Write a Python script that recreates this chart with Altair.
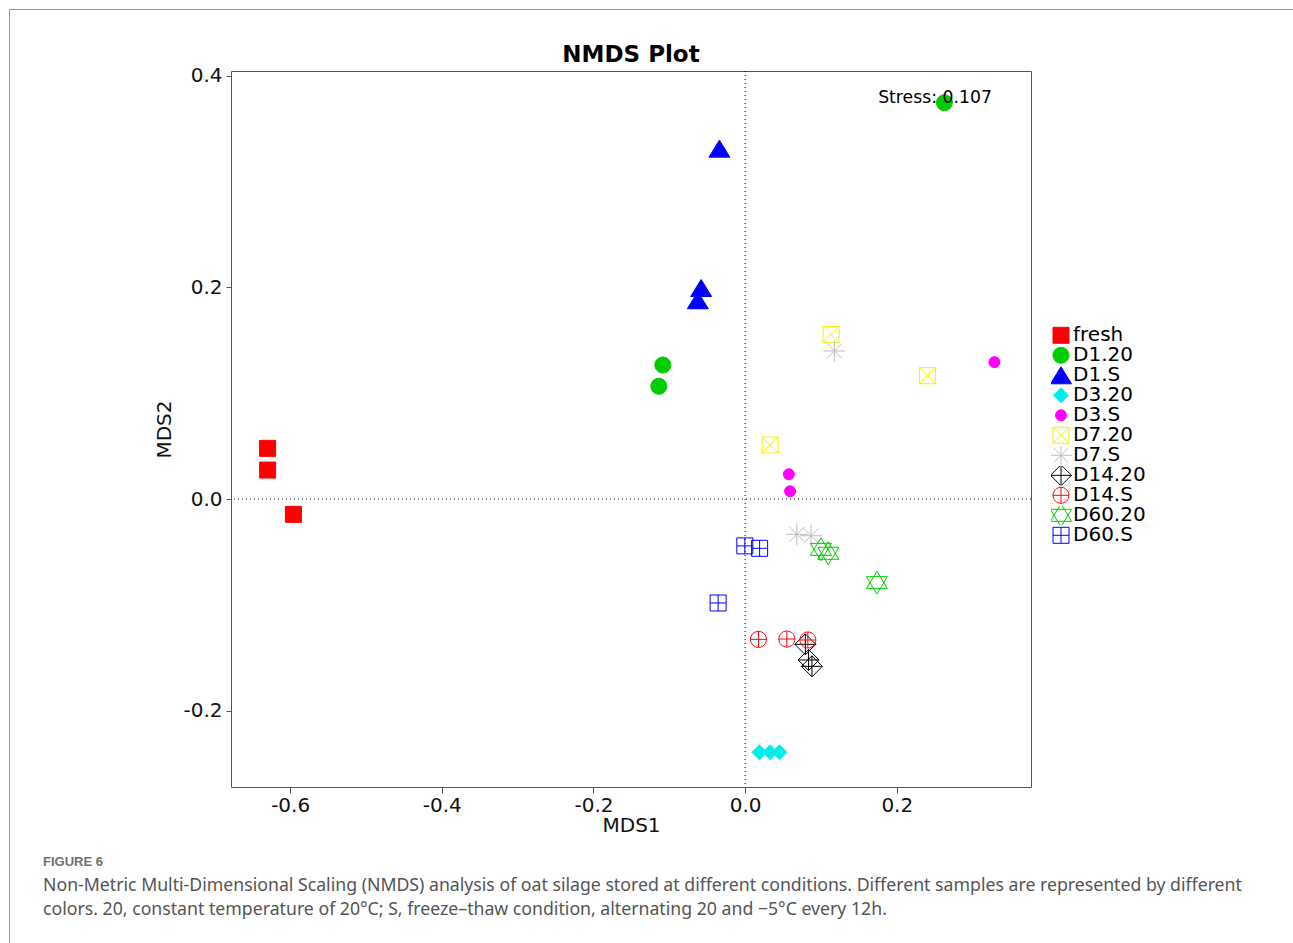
import altair as alt
import pandas as pd

# ---- data ----
groups = ["fresh", "D1.20", "D1.S", "D3.20", "D3.S", "D7.20", "D7.S",
          "D14.20", "D14.S", "D60.20", "D60.S"]

sample_group = (["fresh"] * 3 + ["D1.20"] * 3 + ["D1.S"] * 3 + ["D3.20"] * 3 +
                ["D3.S"] * 3 + ["D7.20"] * 3 + ["D7.S"] * 3 + ["D14.20"] * 3 +
                ["D14.S"] * 3 + ["D60.20"] * 3 + ["D60.S"] * 3)

mds1 = [-0.6297, -0.6297, -0.5957,
        0.2628, -0.1085, -0.1138,
        -0.0339, -0.0580, -0.0624,
        0.0189, 0.0330, 0.0452,
        0.3288, 0.0576, 0.0593,
        0.1134, 0.2404, 0.0330,
        0.1178, 0.0682, 0.0870,
        0.0794, 0.0837, 0.0881,
        0.0176, 0.0550, 0.0827,
        0.1000, 0.1097, 0.1738,
        -0.0004, 0.0191, -0.0356]

mds2 = [0.0479, 0.0274, -0.0145,
        0.3747, 0.1267, 0.1066,
        0.3313, 0.1995, 0.1879,
        -0.2395, -0.2395, -0.2395,
        0.1294, 0.0234, 0.0073,
        0.1557, 0.1166, 0.0511,
        0.1400, -0.0334, -0.0347,
        -0.1374, -0.1522, -0.1582,
        -0.1327, -0.1324, -0.1333,
        -0.0476, -0.0513, -0.0791,
        -0.0443, -0.0466, -0.0983]

title_text = "NMDS Plot"
stress_label = "Stress: 0.107"
stress_x = [0.1754]
stress_y = [0.3748]

x_ticks = [-0.6, -0.4, -0.2, 0.0, 0.2]
y_ticks = [-0.2, 0.0, 0.2, 0.4]

caption_head = "FIGURE 6"
caption_lines = [
    "Non-Metric Multi-Dimensional Scaling (NMDS) analysis of oat silage stored at different conditions. Different samples are represented by different",
    "colors. 20, constant temperature of 20°C; S, freeze\u2013thaw condition, alternating 20 and \u22125°C every 12h.",
]

# ---- styles ----
stroke_colors = ["#FF0000", "#00CD00", "#0000FF", "#00EEEE", "#FF00FF", "#F2F200",
                 "#BEBEBE", "#000000", "#FF0000", "#00CD00", "#0000FF"]
fill_colors = ["#FF0000", "#00CD00", "#0000FF", "#00EEEE", "#FF00FF", "transparent",
               "transparent", "transparent", "transparent", "transparent", "transparent"]
shapes = [
    "M-8,-8H8V8H-8Z",
    "M8,0A8,8,0,1,1,-8,0A8,8,0,1,1,8,0Z",
    "M0,-8.5L10.5,8.5L-10.5,8.5Z",
    "M0,-7.5L7.5,0L0,7.5L-7.5,0Z",
    "M5.5,0A5.5,5.5,0,1,1,-5.5,0A5.5,5.5,0,1,1,5.5,0Z",
    "M-8,-8H8V8H-8Z M-8,-8L8,8 M8,-8L-8,8",
    "M-11,0H11 M0,-11V11 M-7.5,-7.5L7.5,7.5 M7.5,-7.5L-7.5,7.5",
    "M0,-10.5L10.5,0L0,10.5L-10.5,0Z M-10.5,0H10.5 M0,-10.5V10.5",
    "M8,0A8,8,0,1,1,-8,0A8,8,0,1,1,8,0Z M-8,0H8 M0,-8V8",
    "M0,-11.5L10.5,6L-10.5,6Z M0,11.5L10.5,-6L-10.5,-6Z",
    "M-8,-8H8V8H-8Z M-8,0H8 M0,-8V8",
]

FONT = "DejaVu Sans"
HYPHEN_LABEL = "datum.value < 0 ? '-' + format(-datum.value, '.1f') : format(datum.value, '.1f')"

df = pd.DataFrame({"MDS1": mds1, "MDS2": mds2, "group": sample_group})

xscale = alt.Scale(domain=[-0.678, 0.377], nice=False, zero=False)
yscale = alt.Scale(domain=[-0.2723, 0.4047], nice=False, zero=False)

legend = alt.Legend(title=None, orient="none", legendX=820, legendY=255,
                    labelFont=FONT, labelFontSize=20, labelColor="#000000",
                    symbolSize=4, symbolStrokeWidth=1, labelOffset=2,
                    clipHeight=18.6, rowPadding=-1.7, labelLimit=200)

points = alt.Chart(df).mark_point(size=4, opacity=1, strokeWidth=1).encode(
    x=alt.X("MDS1:Q", scale=xscale,
            axis=alt.Axis(values=x_ticks, labelExpr=HYPHEN_LABEL, title="MDS1")),
    y=alt.Y("MDS2:Q", scale=yscale,
            axis=alt.Axis(values=y_ticks, labelExpr=HYPHEN_LABEL, title="MDS2")),
    shape=alt.Shape("group:N", scale=alt.Scale(domain=groups, range=shapes), legend=legend),
    stroke=alt.Stroke("group:N", scale=alt.Scale(domain=groups, range=stroke_colors), legend=legend),
    fill=alt.Fill("group:N", scale=alt.Scale(domain=groups, range=fill_colors), legend=legend),
)

vline = alt.Chart(pd.DataFrame({"MDS1": [0.0]})).mark_rule(
    color="#000000", strokeDash=[1, 3], strokeWidth=1).encode(x=alt.X("MDS1:Q", scale=xscale))
hline = alt.Chart(pd.DataFrame({"MDS2": [0.0]})).mark_rule(
    color="#000000", strokeDash=[1, 3], strokeWidth=1).encode(y=alt.Y("MDS2:Q", scale=yscale))

stress = alt.Chart(pd.DataFrame({"MDS1": stress_x, "MDS2": stress_y, "t": [stress_label]})).mark_text(
    align="left", baseline="alphabetic", font=FONT, fontSize=17.3, color="#000000").encode(
    x=alt.X("MDS1:Q", scale=xscale), y=alt.Y("MDS2:Q", scale=yscale), text="t:N")

# chart title (as a text mark, centred over the plot)
title = alt.Chart(pd.DataFrame({"t": [title_text]})).mark_text(
    align="center", baseline="alphabetic", font=FONT, fontSize=23, fontWeight="bold",
    color="#000000").encode(x=alt.value(400), y=alt.value(-9), text="t:N")

# page frame and caption (outside the plot)
frame = alt.Chart(pd.DataFrame({"a": [0]})).mark_rect(
    fill="transparent", stroke="#9a9a9a", strokeWidth=1).encode(
    x=alt.value(-221.5), x2=alt.value(1080), y=alt.value(-61.5), y2=alt.value(900))

cap_head = alt.Chart(pd.DataFrame({"t": [caption_head]})).mark_text(
    align="left", baseline="middle", font="Liberation Sans", fontSize=13,
    fontWeight="bold", color="#707070").encode(x=alt.value(-188), y=alt.value(791), text="t:N")

cap_layers = []
for i, line in enumerate(caption_lines):
    cap_layers.append(alt.Chart(pd.DataFrame({"t": [line]})).mark_text(
        align="left", baseline="middle", font="Noto Sans", fontSize=17.7,
        color="#555555").encode(x=alt.value(-188), y=alt.value(815 + 24 * i), text="t:N"))

chart = alt.layer(frame, vline, hline, points, stress, title, cap_head, *cap_layers).properties(
    width=800, height=716,
    autosize=alt.AutoSizeParams(type="none"),
    padding={"left": 231, "top": 71, "right": 262, "bottom": 156},
    background="white",
).configure_view(
    stroke="#555555", strokeWidth=1
).configure_axis(
    labelFont=FONT, labelFontSize=20, labelColor="#111111",
    titleFont=FONT, titleFontSize=20, titleFontWeight="normal", titleColor="#111111",
    grid=False, domain=False, tickColor="#555555", tickWidth=1,
).configure_axisX(
    tickSize=6, labelPadding=2, titlePadding=0
).configure_axisY(
    tickSize=5, labelPadding=4, titlePadding=8
)

chart.save("out.html", embed_options={"renderer": "svg", "actions": False})
